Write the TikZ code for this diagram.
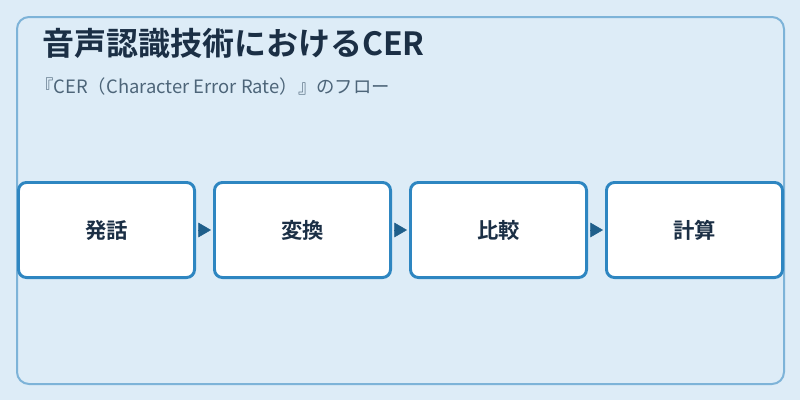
\documentclass[tikz,border=0pt]{standalone}
\usepackage{fontspec}
\setmainfont{Noto Sans CJK JP}
\newfontfamily\jpbold{Noto Sans CJK JP Bold}
\usetikzlibrary{arrows.meta}
\definecolor{bgc}{HTML}{DDECF7}
\definecolor{framec}{HTML}{7DB3D8}
\definecolor{boxc}{HTML}{2E86C1}
\definecolor{arrc}{HTML}{1F5F8B}
\definecolor{titlec}{HTML}{1B2F45}
\definecolor{subc}{HTML}{4D6579}
\newcommand{\steplabel}[1]{\raisebox{-1.5pt}{#1}}
\tikzset{
  stepbox/.style={draw=boxc, line width=2.2pt, fill=white, rounded corners=6pt,
    minimum width=132.05pt, minimum height=71.3pt, inner sep=0pt,
    font=\jpbold\fontsize{16pt}{19pt}\selectfont, text=titlec},
  flow/.style={draw=arrc, line width=0.4pt, shorten <=1.5pt, shorten >=1.5pt,
    -{Triangle[length=9.5pt,width=11pt]}, arrc}
}
\begin{document}
\begin{tikzpicture}[x=0.75pt,y=-0.75pt]
\useasboundingbox (0,0) rectangle (800,400);
\fill[bgc] (0,0) rectangle (800,400);
\draw[framec, line width=1.5pt, rounded corners=9pt] (17,17) rectangle (784,384);
\node[anchor=base west, inner sep=0pt, text=titlec, font=\jpbold\fontsize{24pt}{28pt}\selectfont] (title) at (42,55) {音声認識技術におけるCER};
\node[anchor=base west, inner sep=0pt, text=subc, font=\fontsize{13.8pt}{16pt}\selectfont] (sub) at (35,93) {『CER（Character Error Rate）』のフロー};
\node[stepbox] (b1) at (106.5,230) {\steplabel{発話}};
\node[stepbox] (b2) at (302.5,230) {\steplabel{変換}};
\node[stepbox] (b3) at (498.5,230) {\steplabel{比較}};
\node[stepbox] (b4) at (694.5,230) {\steplabel{計算}};
\draw[flow] (b1) -- (b2);
\draw[flow] (b2) -- (b3);
\draw[flow] (b3) -- (b4);
\end{tikzpicture}
\end{document}
